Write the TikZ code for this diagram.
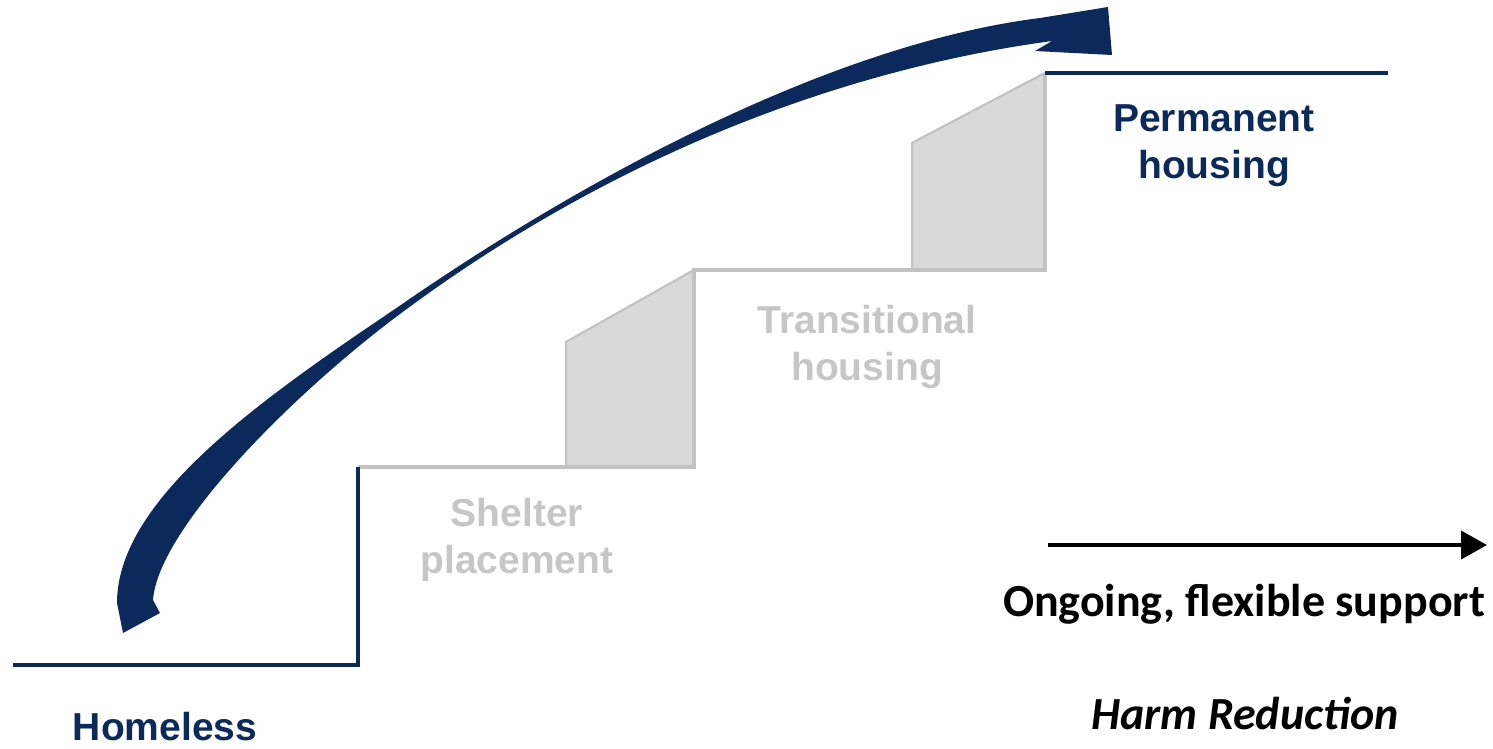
\documentclass[tikz,border=0pt]{standalone}
\usepackage{fontspec}
\setmainfont{Liberation Sans}
\newfontfamily\calib{Carlito}
\usetikzlibrary{arrows.meta}
\definecolor{navy}{HTML}{0B2A5B}
\definecolor{stepgray}{HTML}{C2C2C2}
\definecolor{stepfill}{HTML}{D9D9D9}
\definecolor{labelgray}{HTML}{C6C6C6}
\begin{document}
\begin{tikzpicture}[x=1pt,y=-1pt,
  navyline/.style={draw=navy,line width=4pt,line join=miter},
  grayline/.style={draw=stepgray,line width=3.5pt,line join=miter},
  riser/.style={fill=stepfill,draw=stepgray,line width=2pt},
  stagelabel/.style={font=\fontsize{39}{47}\selectfont\bfseries,align=center,inner sep=0pt},
  notelabel/.style={font=\calib\fontsize{46}{55}\selectfont\bfseries,inner sep=0pt},
  bigarrow/.style={fill=navy,draw=none},
  supportarrow/.style={draw=black,line width=4pt,-{Triangle[length=26pt,width=28pt]}}
]
\useasboundingbox (0,0) rectangle (1493,749);

% risers
\fill[riser] (566,467) -- (566,342) -- (694,270) -- (694,467) -- cycle;
\fill[riser] (912,270) -- (912,143) -- (1045,73) -- (1045,270) -- cycle;
\draw[riser] (566,467) -- (566,342) -- (694,270);
\draw[riser] (912,270) -- (912,143) -- (1045,73);

% step outline
\draw[grayline] (358,467) -- (694,467) -- (694,270) -- (1045,270) -- (1045,73);
\draw[navyline] (13,665) -- (358,665) -- (358,467);
\draw[navyline] (1045,73) -- (1388,73);

% big curved arrow
\fill[bigarrow]
  (117,603) .. controls (117,500) and (260,400) .. (395,309)
  .. controls (595,170) and (840,43) .. (1040,18)
  -- (1108,7) -- (1112,55) -- (1035,51) -- (1052,41)
  .. controls (852,68) and (620,150) .. (400,314)
  .. controls (290,396) and (158,530) .. (153,600)
  -- (160,613) -- (123,633) -- cycle;

% labels
\node[stagelabel,text=navy] (homeless) at (165,727) {Homeless};
\node[stagelabel,text=labelgray] (shelter) at (517,540) {Shelter\\placement};
\node[stagelabel,text=labelgray] (transitional) at (867,347) {Transitional\\housing};
\node[stagelabel,text=navy] (permanent) at (1214,146) {Permanent\\housing};

\coordinate (supportstart) at (1048,545);
\coordinate (supportend) at (1487,545);
\draw[supportarrow] (supportstart) -- (supportend);
\node[notelabel] (support) at (1244,604) {Ongoing, flexible support};
\node[notelabel,font=\calib\fontsize{46}{55}\selectfont\bfseries\itshape] (harm) at (1245,714) {Harm Reduction};
\end{tikzpicture}
\end{document}
